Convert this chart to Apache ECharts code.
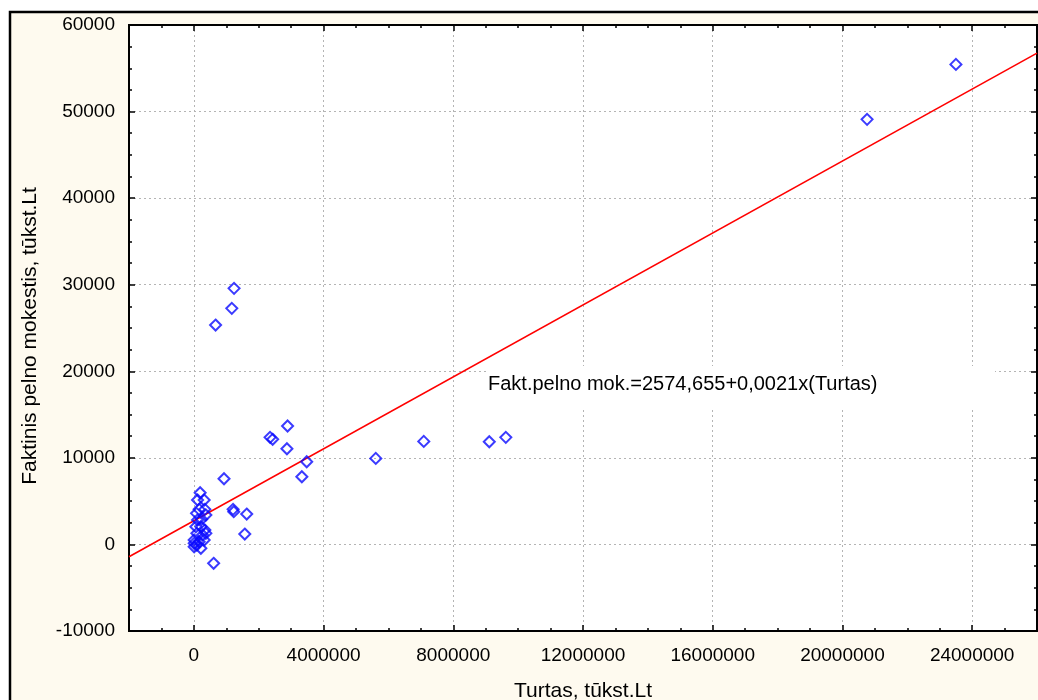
<!DOCTYPE html>
<html>
<head>
<meta charset="utf-8">
<script src="https://cdn.jsdelivr.net/npm/echarts@6/dist/echarts.min.js"></script>
<style>
html,body{margin:0;padding:0;background:#fff;}
#c{width:1038px;height:700px;}
</style>
</head>
<body>
<div id="c"></div>
<script>
// ---- data ----
const assets = [
  23500000, 20760000,
  1240000, 1170000, 670000,
  2890000, 2350000, 2430000, 2870000, 3480000, 3330000,
  5610000, 7090000, 9110000, 9620000,
  930000, 1210000, 1230000, 1630000, 1570000, 610000,
  194000, 318000, 114000, 163000, 339000, 83000, 370000, 114000, 237000,
  62000, 216000, 339000, 93000, 268000, 370000, 9000, 163000, 318000,
  10000, 93000, 216000, 9000
];
const tax = [
  55450, 49100,
  29580, 27270, 25340,
  13680, 12370, 12140, 11050, 9550, 7820,
  9940, 11900, 11860, 12370,
  7590, 4050, 3780, 3510, 1200, -2180,
  5970, 5130, 5130, 4050, 4050, 3590, 3400, 2820, 2900,
  2040, 2040, 1660, 1280, 1090, 1280, 510, 310, 510,
  130, -70, -450, -270
];
// fitted line, end points
const fitX = [-2000000, 26000000];
const fitY = [-1420, 56750];
const xRange = [-2000000, 26000000];
const yRange = [-10000, 60000];
const xTickLabels = [0, 4000000, 8000000, 12000000, 16000000, 20000000, 24000000];
const xName = 'Turtas, tūkst.Lt';
const yName = 'Faktinis pelno mokestis, tūkst.Lt';
const eqText = 'Fakt.pelno mok.=2574,655+0,0021x(Turtas)';

// ---- build ----
const points = assets.map((v, i) => [v, tax[i]]);
const fitLine = fitX.map((x, i) => [x, fitY[i]]);

const FONT = 'Liberation Sans, Arial, sans-serif';
const axisLineStyle = {show: true, onZero: false, lineStyle: {color: '#000', width: 2}};
const fmt = v => String(v);

function xMinorAxis(pos) {
  return {
    type: 'value', position: pos, min: xRange[0], max: xRange[1], interval: 1000000,
    axisLine: axisLineStyle,
    axisTick: {show: true, inside: true, length: 3, lineStyle: {color: '#000', width: 1.5}},
    axisLabel: {show: false}, splitLine: {show: false}
  };
}
function xMajorAxis(pos, withLabels) {
  return {
    type: 'value', position: pos, min: xRange[0], max: xRange[1],
    axisLine: axisLineStyle,
    axisTick: {show: true, inside: true, length: 6, customValues: xTickLabels, lineStyle: {color: '#000', width: 1.5}},
    axisLabel: withLabels ? {show: true, customValues: xTickLabels, formatter: fmt, color: '#000', fontFamily: FONT, fontSize: 19, margin: 15} : {show: false},
    splitLine: withLabels ? {show: true, lineStyle: {color: '#b4b4b4', type: [2, 3], width: 1}} : {show: false},
    name: withLabels ? xName : '',
    nameLocation: 'middle', nameGap: 50,
    nameTextStyle: {color: '#000', fontFamily: FONT, fontSize: 21}
  };
}
function yAxis(pos, withLabels) {
  return {
    type: 'value', position: pos, min: yRange[0], max: yRange[1], interval: 10000,
    axisLine: axisLineStyle,
    axisTick: {show: true, inside: true, length: 6, lineStyle: {color: '#000', width: 1.5}},
    minorTick: {show: true, splitNumber: 4, length: 3, lineStyle: {color: '#000', width: 1.5}},
    axisLabel: withLabels ? {show: true, formatter: fmt, color: '#000', fontFamily: FONT, fontSize: 19, margin: 14} : {show: false},
    splitLine: withLabels ? {show: true, lineStyle: {color: '#b4b4b4', type: [2, 3], width: 1}} : {show: false},
    minorSplitLine: {show: false},
    name: withLabels ? yName : '',
    nameLocation: 'middle', nameGap: 88, nameRotate: 90,
    nameTextStyle: {color: '#000', fontFamily: FONT, fontSize: 21, padding: [0, 16, 0, 0]}
  };
}

const chart = echarts.init(document.getElementById('c'), null, {renderer: 'canvas'});
chart.setOption({
  backgroundColor: '#ffffff',
  animation: false,
  graphic: [
    {type: 'rect', z: -100, zlevel: 0, shape: {x: 10, y: 12, width: 1100, height: 800},
     style: {fill: '#fefaef', stroke: '#000', lineWidth: 2.5}},
    {type: 'rect', z: 100, shape: {x: 487, y: 366, width: 508, height: 42}, style: {fill: '#fff'}},
    {type: 'text', z: 101, x: 488, y: 384,
     style: {text: eqText, font: '20px ' + FONT, fill: '#000', verticalAlign: 'middle', align: 'left'}}
  ],
  grid: {left: 129, right: 1, top: 25, bottom: 69, show: true, backgroundColor: '#fff', borderWidth: 0, outerBoundsMode: 'none', containLabel: false},
  xAxis: [xMajorAxis('bottom', true), xMinorAxis('bottom'), xMajorAxis('top', false), xMinorAxis('top')],
  yAxis: [yAxis('left', true), yAxis('right', false)],
  series: [
    {type: 'line', data: fitLine, xAxisIndex: 0, yAxisIndex: 0, showSymbol: false, silent: true,
     lineStyle: {color: '#ff0000', width: 1.6}, z: 3},
    {type: 'scatter', data: points, xAxisIndex: 0, yAxisIndex: 0, symbol: 'diamond', symbolSize: 11,
     itemStyle: {color: 'rgba(0,0,0,0)', borderColor: '#0a0aff', borderWidth: 2}, z: 4}
  ]
});
</script>
</body>
</html>
